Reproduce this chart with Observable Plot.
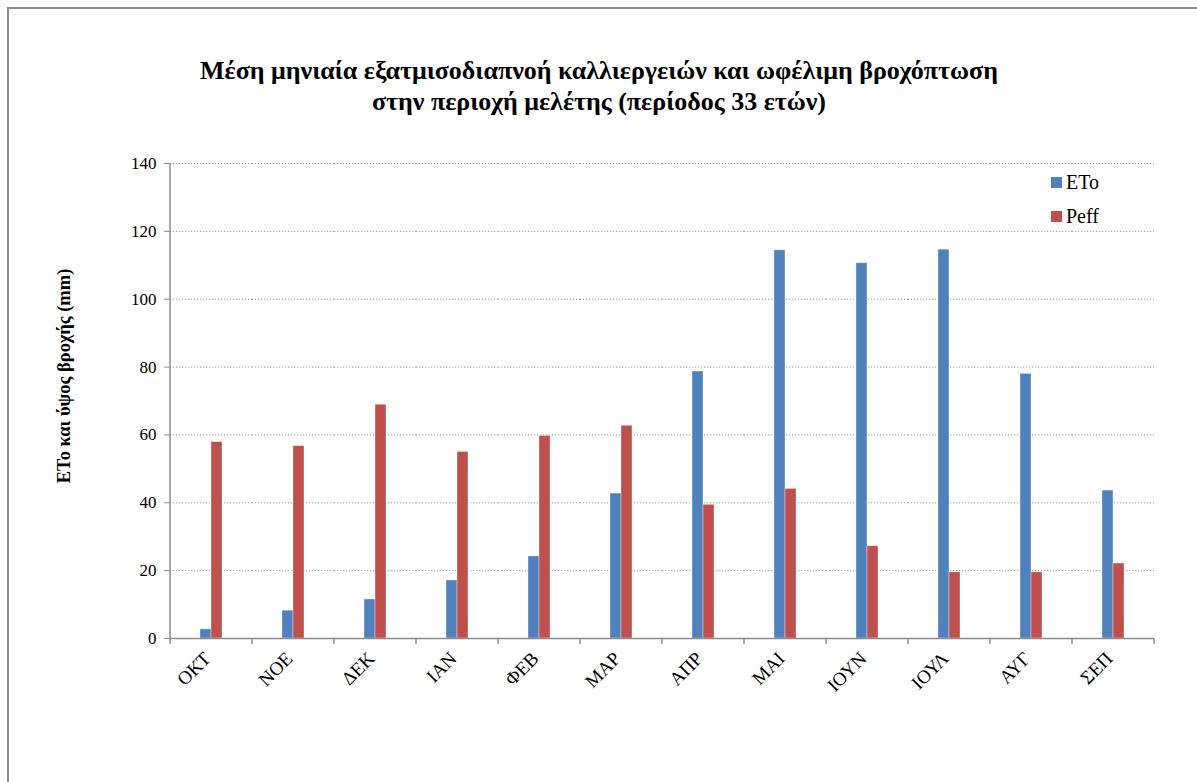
<!DOCTYPE html>
<html>
<head>
<meta charset="utf-8">
<script src="https://cdn.jsdelivr.net/npm/d3@7"></script>
<script src="https://cdn.jsdelivr.net/npm/@observablehq/plot@0.6"></script>
<style>
  html, body { margin: 0; padding: 0; background: #fff; }
  body { width: 1197px; height: 782px; position: relative; overflow: hidden; font-family: "Liberation Serif", "Times New Roman", serif; }
  #frameTop { position: absolute; left: 8px; top: 7px; right: 0; height: 0; border-top: 2px solid #8c8c8c; }
  #frameLeft { position: absolute; left: 7px; top: 7px; bottom: 0; width: 0; border-left: 2px solid #8c8c8c; }
  #title { position: absolute; left: 8px; width: 1182px; top: 55px; text-align: center; font-weight: bold; font-size: 26px; line-height: 31px; color: #000; }
  #ylabel { position: absolute; left: 64px; top: 376px; transform: translate(-50%, -50%) rotate(-90deg); white-space: nowrap; font-weight: bold; font-size: 18.5px; color: #000; }
  #chart { position: absolute; left: 8px; top: 140px; }
  #legend { position: absolute; left: 1051px; top: 165px; font-size: 20px; color: #000; }
  #legend div { display: flex; align-items: center; height: 34px; }
  #legend span.sw { display: inline-block; width: 11px; height: 11px; margin-right: 4px; }
</style>
</head>
<body>
<div id="frameTop"></div>
<div id="frameLeft"></div>
<div id="title">Μέση μηνιαία εξατμισοδιαπνοή καλλιεργειών και ωφέλιμη βροχόπτωση<br>στην περιοχή μελέτης (περίοδος 33 ετών)</div>
<div id="ylabel">ETo και ύψος βροχής (mm)</div>
<div id="chart"></div>
<div id="legend"></div>
<script>
const months = ["ΟΚΤ", "ΝΟΕ", "ΔΕΚ", "ΙΑΝ", "ΦΕΒ", "ΜΑΡ", "ΑΠΡ", "ΜΑΙ", "ΙΟΥΝ", "ΙΟΥΛ", "ΑΥΓ", "ΣΕΠ"];
const seriesNames = ["ETo", "Peff"];
const eto  = [2.7, 8.2, 11.5, 17.1, 24.2, 42.7, 78.7, 114.4, 110.6, 114.6, 78.0, 43.6];
const peff = [57.9, 56.7, 68.9, 55.0, 59.7, 62.7, 39.4, 44.1, 27.2, 19.5, 19.5, 22.1];
const yTicks = [0, 20, 40, 60, 80, 100, 120, 140];
const colors = ["#4f81bd", "#c0504d"];

const data = [];
months.forEach((m, i) => {
  data.push({month: m, series: "ETo", value: eto[i]});
  data.push({month: m, series: "Peff", value: peff[i]});
});

const W = 1182, H = 600;
const chart = Plot.plot({
  width: W,
  height: H,
  marginLeft: 157,
  marginRight: 32,
  marginTop: 23,
  marginBottom: 102,
  style: {fontFamily: "'Liberation Serif', 'Times New Roman', serif", fontSize: "17px", color: "#000", background: "transparent"},
  fx: {domain: months, paddingInner: 0, paddingOuter: 0, label: null},
  x: {domain: seriesNames, paddingInner: 0, paddingOuter: 2.54, axis: null},
  y: {domain: [0, 140], ticks: yTicks, label: null},
  color: {domain: seriesNames, range: colors},
  marks: [
    Plot.gridY(yTicks.filter(d => d > 0), {stroke: "#9a9a9a", strokeOpacity: 1, strokeDasharray: "1.2,1.8", strokeWidth: 1}),
    Plot.barY(data, {fx: "month", x: "series", y: "value", fill: "series", stroke: "#ffffff", strokeOpacity: 0.45, strokeWidth: 0.8}),
    Plot.ruleY([0], {stroke: "#8c8c8c", strokeWidth: 1.5}),
    Plot.axisY({ticks: yTicks, tickSize: 6, tickPadding: 8, stroke: "#8c8c8c", fontSize: 17, label: null, anchor: "left"}),
    Plot.axisFx({tickRotate: -45, tickSize: 0, tickPadding: 17, dx: -4, fontSize: 19, label: null, anchor: "bottom"})
  ]
});
document.getElementById("chart").appendChild(chart);

// axis line and category-boundary ticks drawn from Plot's own scales
const fx = chart.scale("fx"), y = chart.scale("y");
const step = fx.step ?? fx.bandwidth;
const svg = d3.select(chart.tagName.toLowerCase() === "svg" ? chart : chart.querySelector("svg"));
const y0 = y.apply(0), yTop = y.apply(140);
const boundaries = months.map(m => fx.apply(m)).concat([fx.apply(months[months.length - 1]) + step]);
const g = svg.append("g").attr("stroke", "#8c8c8c").attr("stroke-width", 1.5);
g.append("line").attr("x1", boundaries[0]).attr("x2", boundaries[0]).attr("y1", yTop).attr("y2", y0 + 0.75);
g.selectAll("line.tk").data(boundaries).join("line").attr("class", "tk")
  .attr("x1", d => d).attr("x2", d => d).attr("y1", y0).attr("y2", y0 + 6);

// legend
const legend = d3.select("#legend");
seriesNames.forEach((s, i) => {
  const row = legend.append("div");
  row.append("span").attr("class", "sw").style("background", colors[i]);
  row.append("span").text(s);
});
</script>
</body>
</html>
